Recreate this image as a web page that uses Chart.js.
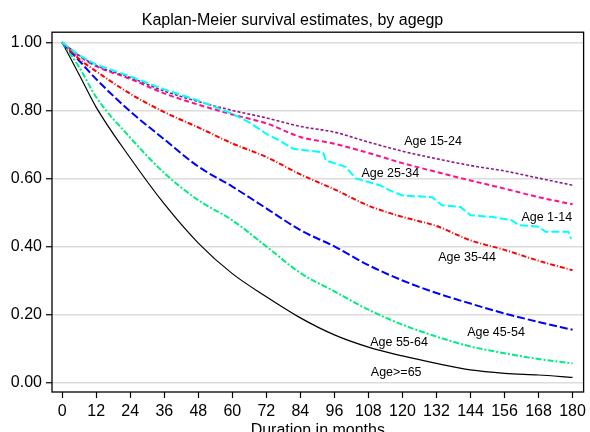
<!DOCTYPE html>
<html>
<head>
<meta charset="utf-8">
<script src="https://cdn.jsdelivr.net/npm/chart.js@4"></script>
<style>
  html, body { margin: 0; padding: 0; overflow: hidden; background: #fff; }
  #wrap { width: 590px; height: 440px; }
</style>
</head>
<body>
<div id="wrap"><canvas id="km"></canvas></div>
<script>
// Data
const months = [0, 6, 12, 24, 36, 48, 60, 72, 84, 96, 108, 120, 132, 144, 156, 168, 180];
const xTicks = [0, 12, 24, 36, 48, 60, 72, 84, 96, 108, 120, 132, 144, 156, 168, 180];
const yTicks = [0, 0.2, 0.4, 0.6, 0.8, 1.0];

// age 1-14 has visible steps, so it keeps its own time points
const monthsAge1to14 = [0, 6, 12, 24, 36, 48, 60, 66, 72, 76.5, 81.5, 92, 93, 100, 103.5, 112, 115.5, 120, 130.5, 134, 140.5, 144, 151.5, 158.5, 161, 168, 170.5, 178.5, 179.5];
const age1to14 = [1, 0.962, 0.935, 0.9, 0.862, 0.829, 0.79, 0.765, 0.731, 0.712, 0.687, 0.677, 0.653, 0.634, 0.6, 0.58, 0.565, 0.55, 0.545, 0.521, 0.516, 0.492, 0.487, 0.477, 0.463, 0.458, 0.443, 0.443, 0.422];

const age15to24 = [1, 0.962, 0.932, 0.897, 0.857, 0.826, 0.8, 0.778, 0.753, 0.736, 0.707, 0.68, 0.658, 0.638, 0.622, 0.601, 0.58];
const age25to34 = [1, 0.96, 0.93, 0.893, 0.85, 0.817, 0.788, 0.762, 0.722, 0.702, 0.675, 0.645, 0.619, 0.594, 0.57, 0.545, 0.524];
const age35to44 = [1, 0.951, 0.915, 0.849, 0.795, 0.75, 0.703, 0.663, 0.612, 0.568, 0.52, 0.487, 0.46, 0.418, 0.39, 0.358, 0.33];
const age45to54 = [1, 0.946, 0.892, 0.797, 0.715, 0.635, 0.576, 0.512, 0.448, 0.4, 0.345, 0.3, 0.263, 0.232, 0.203, 0.178, 0.155];
const age55to64 = [1, 0.927, 0.839, 0.72, 0.616, 0.536, 0.477, 0.4, 0.322, 0.268, 0.214, 0.17, 0.135, 0.106, 0.086, 0.069, 0.056];
const ageOver65 = [1, 0.905, 0.809, 0.66, 0.525, 0.41, 0.32, 0.252, 0.19, 0.14, 0.104, 0.078, 0.056, 0.037, 0.027, 0.022, 0.015];

// in-plot labels: text, month, survival
const curveLabels = [
  ['Age 15-24', 130.8, 0.709],
  ['Age 25-34', 115.7, 0.615],
  ['Age 1-14', 170.9, 0.486],
  ['Age 35-44', 142.8, 0.366],
  ['Age 45-54', 153, 0.146],
  ['Age 55-64', 118.8, 0.117],
  ['Age>=65', 117.8, 0.028]
];

const FONT = "'Liberation Sans', Arial, sans-serif";

function pts(xs, ys) {
  return xs.map((x, i) => ({x: x, y: ys[i]}));
}

// frame round the plot + curve labels
const decor = {
  id: 'decor',
  afterDatasetsDraw(chart) {
    const {ctx, chartArea: a, scales} = chart;
    ctx.save();
    ctx.font = '12.5px ' + FONT;
    ctx.fillStyle = '#000';
    ctx.textAlign = 'center';
    ctx.textBaseline = 'middle';
    curveLabels.forEach(l => {
      ctx.fillText(l[0], scales.x.getPixelForValue(l[1]), scales.y.getPixelForValue(l[2]));
    });
    ctx.strokeStyle = '#000';
    ctx.lineWidth = 1.3;
    ctx.strokeRect(a.left, a.top, a.right - a.left, a.bottom - a.top);
    ctx.restore();
  }
};

!function(){
  const ctx = document.getElementById('km');
  const smooth = {cubicInterpolationMode: 'monotone'};

  new Chart(ctx, {
    type: 'line',
    data: {
      datasets: [
        {label: 'Age 1-14', data: pts(monthsAge1to14, age1to14), borderColor: '#00ffff', borderWidth: 2, borderDash: [8, 3]},
        {label: 'Age 15-24', data: pts(months, age15to24), borderColor: '#8e1a8e', borderWidth: 1.6, borderDash: [3, 2], ...smooth},
        {label: 'Age 25-34', data: pts(months, age25to34), borderColor: '#ff1088', borderWidth: 2, borderDash: [5, 3], ...smooth},
        {label: 'Age 35-44', data: pts(months, age35to44), borderColor: '#ff0000', borderWidth: 2, borderDash: [5, 2, 1, 2], ...smooth},
        {label: 'Age 45-54', data: pts(months, age45to54), borderColor: '#0000ff', borderWidth: 2, borderDash: [8, 3], ...smooth},
        {label: 'Age 55-64', data: pts(months, age55to64), borderColor: '#00ee80', borderWidth: 2, borderDash: [6, 2, 2, 2], ...smooth},
        {label: 'Age>=65', data: pts(months, ageOver65), borderColor: '#000000', borderWidth: 1.2, ...smooth}
      ]
    },
    options: {
      responsive: true,
      maintainAspectRatio: false,
      animation: false,
      parsing: false,
      elements: {point: {radius: 0}, line: {tension: 0, fill: false}},
      layout: {padding: {top: 0, right: 5, left: 0, bottom: 0}},
      plugins: {
        legend: {display: false},
        tooltip: {enabled: false},
        title: {
          display: true,
          text: 'Kaplan-Meier survival estimates, by agegp',
          color: '#000',
          font: {family: FONT, size: 16, weight: 'normal'},
          padding: {top: 11, bottom: 2}
        }
      },
      scales: {
        x: {
          type: 'linear',
          min: -3.6,
          max: 183.9,
          afterBuildTicks: s => { s.ticks = xTicks.map(v => ({value: v})); },
          afterFit: s => { s.height = 48; },
          border: {display: false},
          grid: {drawOnChartArea: false, drawTicks: true, tickLength: 6, tickColor: '#000', tickWidth: 1.2},
          ticks: {color: '#000', font: {family: FONT, size: 16}, padding: 4, maxRotation: 0, autoSkip: false},
          title: {display: true, text: 'Duration in months', color: '#000', font: {family: FONT, size: 16}, padding: {top: 0, bottom: 0}}
        },
        y: {
          type: 'linear',
          min: -0.028,
          max: 1.03,
          afterBuildTicks: s => { s.ticks = yTicks.map(v => ({value: v})); },
          afterFit: s => { s.width = 52; },
          border: {display: false},
          grid: {color: '#dcdcdc', lineWidth: 1.5, drawTicks: true, tickLength: 6, tickColor: '#000', tickWidth: 1.2},
          ticks: {color: '#000', font: {family: FONT, size: 16}, padding: 4, callback: v => v.toFixed(2)}
        }
      }
    },
    plugins: [decor]
  });
}();
</script>
</body>
</html>
